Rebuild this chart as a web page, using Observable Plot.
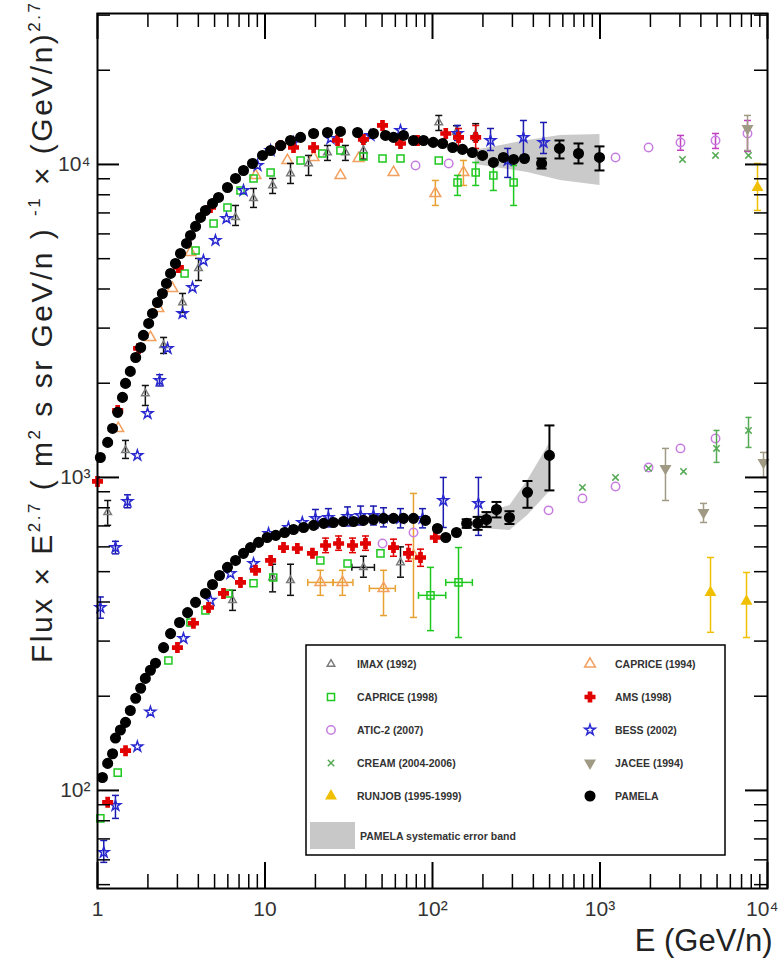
<!DOCTYPE html>
<html>
<head>
<meta charset="utf-8">
<script src="https://cdn.jsdelivr.net/npm/d3@7"></script>
<script src="https://cdn.jsdelivr.net/npm/@observablehq/plot@0.6"></script>
<style>
html,body{margin:0;padding:0;background:#fff;}
</style>
</head>
<body>
<div id="chart"></div>
<script>
// ---------- DATA (E [GeV/n], Flux*E^2.7, errLo, errHi, ELo, EHi) ----------
// Protons (upper group)
const pamelaP = [[1.04,1158],[1.15,1294],[1.23,1434],[1.32,1614],[1.41,1802],[1.47,1997],[1.57,2182],[1.69,2417],[1.81,2602],[1.88,2843],[2.02,3105],[2.13,3342],[2.28,3623],[2.44,3871],[2.58,4167],[2.73,4485],[2.92,4828],[3.13,5195],[3.40,5593],[3.59,5932],[3.85,6339],[4.12,6772],[4.41,7129],[4.86,7506],[5.28,7846],[5.97,8443],[6.67,9022],[7.44,9568],[8.42,10074],[9.66,10685],[10.8,11083],[12.4,11500],[14.2,11930],[16.3,12200],[19.5,12560],[23.6,12650],[28.2,12750],[35.7,12650],[44.4,12560],[52.4,12380],[58.5,12200],[67.1,12380],[77.0,11930],[88.4,11930],[101,11760],[115,11670],[132,11330],[151,11170],[173,10920],[199,10685],[231,10150],[265,10530],[305,10375],[354,10450],[448,10074,9700,10450],[573,11250,10450,11930],[744,10840,10074,11670],[993,10530,9568,11420]];
const imaxP = [[1.15,773,703,844],[1.47,1220,1150,1313],[1.93,1855,1698,1967],[2.48,2641,2490,2801],[3.22,3623,3367,3871],[4.01,4653,4259,5008],[6.67,6772,6384,7396],[8.54,7788,7289,8380],[11.1,8568,8078,9022],[14.2,9358,8694,10074],[18.2,10074,9224,10685],[23.6,10920,10300,11500],[30.2,10920,10300,11500],[38.7,11083,10400,11800],[109,13620,12840,14340],[139,12700,12200,13300],[181,12450,11930,13500]];
const bessP = [[1.04,384,355,415],[1.28,597,570,625],[1.51,838,800,880],[1.73,1176],[1.99,1601],[2.35,2041,1960,2130],[2.62,2583],[3.22,3342],[3.69,4046],[4.29,4935],[5.06,5719],[5.89,6722],[7.44,8259],[9.02,9927],[10.8,11083],[14.8,11760],[24.6,12106],[42.6,12380],[64.4,12840],[141,12560,11930,13324],[222,11930,11083,13030],[281,10300,9089,11250],[349,12200,10685,13820],[460,11760,10840,13620]];
const capr98P = [[3.31,4485],[3.85,5311],[4.93,6479],[5.97,7289],[7.14,8259],[8.54,9022],[10.8,9428],[16.3,10300],[22.0,10840],[28.2,11083],[38.7,10606],[50.3,10450],[64.4,10450],[109,10300],[141,8759,7962,9224],[181,9428,8568,10150],[231,9224,8259,9927],[305,8759,7396,9927]];
const capr94P = [[1.33,1434],[2.07,2801],[2.31,3467],[2.80,4016],[3.59,5235],[8.78,9224],[13.6,10300],[19.5,10530],[28.2,9224],[36.2,10450],[58.5,9428],[104,8078,7396,8889],[153,9428,8568,10300]];
const amsP = [[1.0,971],[1.32,1637],[1.76,2583],[3.04,4688],[4.73,7289],[12.4,11500],[14.8,11330],[19.5,11330],[27.1,11930],[38.7,12020],[50.3,13324],[64.4,11670],[81.4,11930],[120,12560],[143,12200,11400,13030],[181,12200,11250,13320]];
const aticP = [[79.2,9927],[125,10074],[1238,10530],[1949,11330],[3024,11760,11100,12380],[4894,11930,11250,12560],[7597,12560,11000,13820]];
const creamP = [[3109,10375],[4894,10685],[7702,10685]];
const runjobP = [[8716,8443,7129,10074]];
const jaceeP = [[7597,13030,11083,14340]];

// Helium (lower group)
const pamelaHe = [[1.07,110],[1.15,122],[1.23,131],[1.28,147],[1.37,156],[1.47,165],[1.57,180],[1.69,197],[1.81,212],[1.93,228],[2.07,242],[2.22,255],[2.48,286],[2.73,317],[3.09,344],[3.45,370],[3.85,399],[4.41,426],[4.86,455],[5.35,486],[5.97,516],[6.67,543],[7.44,572],[8.19,597],[9.15,620],[10.3,643],[11.6,653],[13.1,667],[14.8,682],[17.0,692],[19.5,703],[22.4,713],[25.6,718],[29.4,723],[33.8,723],[38.7,729],[44.4,734],[51.0,740],[58.5,740],[67.1,740],[77.0,740],[90.8,729],[107,687],[120,643],[139,667],[160,713,690,735],[186,713,680,748],[210,734,695,775],[241,790,745,835],[288,745,710,780],[369,896,800,974],[499,1176,909,1466]];
const amsHe = [[1.15,91.6],[1.47,134],[3.00,286],[3.74,342],[4.60,384],[5.65,426],[7.14,462],[8.78,505],[10.8,543],[12.9,597],[15.6,593],[19.2,572],[23.0,606,575,640],[27.5,615,585,650],[33.3,606,575,640],[39.8,615,585,650],[58.5,597,560,635],[71.9,572,540,610],[84.8,555,520,590],[104,643]];
const bessHe = [[1.09,63.4,58.9,69.2],[1.28,89.5,81.4,96.4],[1.73,138],[2.07,178],[3.26,306],[4.73,405],[6.22,493],[8.54,531],[10.5,662],[13.8,692],[16.7,718],[20.0,740,690,790],[23.9,745,695,795],[31.1,751,700,805],[37.2,756,705,810],[44.4,756,705,810],[51.0,745,695,800],[64.4,740,690,795],[87.2,740,690,795],[116,844,692,1000],[188,826,653,1000]];
const capr98He = [[1.04,81.4],[1.32,114],[2.65,260],[3.59,344],[4.41,376],[6.05,426],[8.54,459],[11.2,479],[21.4,543],[31.1,531],[48.9,572],[97.3,420,324,516,82.5,120],[143,462,308,597,120,173]];
const capr94He = [[21.4,462,420,505,18,25.5],[29.0,462,420,505,25.5,33.5],[51.0,442,362,505,42,60],[77.0,563,357,889]];
const imaxHe = [[6.40,405,376,436],[11.1,479,431,528],[14.2,469,420,528],[38.7,516,480,560,33,45],[64.4,535,480,600]];
const aticHe = [[50.3,615],[77.0,667],[493,785],[786,857],[1238,936],[1949,1076],[3024,1238],[4894,1332]];
const creamHe = [[786,929],[1238,1000],[1949,1069],[3152,1045],[4961,1238,1117,1413],[7702,1413,1247,1555]];
const jaceeHe = [[2460,1069,844,1238],[4149,773,718,826],[9465,1117,1000,1202]];
const runjobHe = [[4568,429,320,555],[7493,402,308,497]];

// PAMELA systematic error bands
const bandP_E = [180, 370, 580, 1000];
const bandP_lo = [10000, 9430, 8890, 8570];
const bandP_hi = [11100, 11930, 12380, 12470];
const bandHe_E = [180, 290, 370, 500];
const bandHe_lo = [690, 677, 756, 900];
const bandHe_hi = [750, 814, 978, 1284];

// Axes
const xMajor = [1, 10, 100, 1000, 10000];
const xLabels = ["1", "10", "10²", "10³", "10⁴"];
const yMajor = [100, 1000, 10000];
const yLabels = ["10²", "10³", "10⁴"];
const yDomain = [48.6, 30360];

// Legend
const legendLeft = ["IMAX (1992)", "CAPRICE (1998)", "ATIC-2 (2007)", "CREAM (2004-2006)", "RUNJOB (1995-1999)"];
const legendRight = ["CAPRICE (1994)", "AMS (1998)", "BESS (2002)", "JACEE (1994)", "PAMELA"];
const bandLabel = "PAMELA systematic error band";

// ---------- STYLE ----------
const FONT = "'Liberation Sans', Arial, Helvetica, sans-serif";
const W = 779, H = 973, ML = 97, MR = 12, MT = 13, MB = 85;
const innerW = W - ML - MR, innerH = H - MT - MB;

const styles = {
  "IMAX (1992)":        {symbol: "triangle", r: 2.8, stroke: "#7a7a7a", fill: "none", err: "#111", cap: 3.5},
  "CAPRICE (1998)":     {symbol: "square",   r: 4.0, stroke: "#1ec81e", fill: "none", err: "#1ec81e", cap: 3.5},
  "ATIC-2 (2007)":      {symbol: "circle",   r: 4.2, stroke: "#c77de0", fill: "none", err: "#c040c0", cap: 3.5},
  "CREAM (2004-2006)":  {symbol: "times",    r: 3.0, stroke: "#55aa55", fill: "none", err: "#55aa55", cap: 3},
  "RUNJOB (1995-1999)": {symbol: "triangle", r: 3.5, stroke: "#f0c000", fill: "#f0c000", err: "#f0c000", cap: 3.5},
  "CAPRICE (1994)":     {symbol: "triangle", r: 4.0, stroke: "#f2a060", fill: "none", err: "#e8a030", cap: 3.5},
  "AMS (1998)":         {symbol: "cross",    r: 4.0, stroke: "#e00000", fill: "#e00000", err: "#e00000", cap: 3.5},
  "BESS (2002)":        {symbol: "star",     r: 3.3, stroke: "#2a2ad0", fill: "none", err: "#1a1ab0", cap: 3.5},
  "JACEE (1994)":       {symbol: "triangle", r: 3.5, stroke: "#a09a84", fill: "#a09a84", err: "#a09a84", cap: 3.5, rotate: 180},
  "PAMELA":             {symbol: "circle",   r: 4.8, stroke: "#000", fill: "#000", err: "#000", cap: 5}
};
const seriesData = {
  "CAPRICE (1994)": [capr94P, capr94He],
  "IMAX (1992)": [imaxP, imaxHe],
  "CAPRICE (1998)": [capr98P, capr98He],
  "ATIC-2 (2007)": [aticP, aticHe],
  "CREAM (2004-2006)": [creamP, creamHe],
  "JACEE (1994)": [jaceeP, jaceeHe],
  "RUNJOB (1995-1999)": [runjobP, runjobHe],
  "BESS (2002)": [bessP, bessHe],
  "AMS (1998)": [amsP, amsHe],
  "PAMELA": [pamelaP, pamelaHe]
};

const toRows = (arr) => arr.map(([E, F, lo, hi, xlo, xhi]) => ({E, F, lo, hi, xlo, xhi}));
const capH = {draw(ctx, size) { const r = Math.sqrt(size / Math.PI); ctx.moveTo(-r, 0); ctx.lineTo(r, 0); }};
const capV = {draw(ctx, size) { const r = Math.sqrt(size / Math.PI); ctx.moveTo(0, -r); ctx.lineTo(0, r); }};

const marks = [];
// bands
const bandRows = (E, lo, hi) => E.map((e, i) => ({E: e, lo: lo[i], hi: hi[i]}));
marks.push(Plot.areaY(bandRows(bandP_E, bandP_lo, bandP_hi), {x: "E", y1: "lo", y2: "hi", fill: "#bdbdbd", fillOpacity: 0.8}));
marks.push(Plot.areaY(bandRows(bandHe_E, bandHe_lo, bandHe_hi), {x: "E", y1: "lo", y2: "hi", fill: "#bdbdbd", fillOpacity: 0.8}));

for (const name of Object.keys(seriesData)) {
  const s = styles[name];
  const d = seriesData[name].flatMap(toRows);
  const ye = d.filter(r => r.lo != null);
  const xe = d.filter(r => r.xlo != null);
  const sw = name === "PAMELA" ? 2 : 1.5;
  marks.push(Plot.ruleX(ye, {x: "E", y1: "lo", y2: "hi", stroke: s.err, strokeWidth: sw}));
  marks.push(Plot.dot(ye, {x: "E", y: "lo", symbol: capH, r: s.cap, stroke: s.err, fill: "none", strokeWidth: sw}));
  marks.push(Plot.dot(ye, {x: "E", y: "hi", symbol: capH, r: s.cap, stroke: s.err, fill: "none", strokeWidth: sw}));
  marks.push(Plot.ruleY(xe, {y: "F", x1: "xlo", x2: "xhi", stroke: s.err, strokeWidth: sw}));
  marks.push(Plot.dot(xe, {x: "xlo", y: "F", symbol: capV, r: s.cap, stroke: s.err, fill: "none", strokeWidth: sw}));
  marks.push(Plot.dot(xe, {x: "xhi", y: "F", symbol: capV, r: s.cap, stroke: s.err, fill: "none", strokeWidth: sw}));
  marks.push(Plot.dot(d, {x: "E", y: "F", symbol: s.symbol, r: s.r, stroke: s.stroke, fill: s.fill, strokeWidth: 1.5, rotate: s.rotate || 0}));
}

// ticks (inward, on all four sides)
const xMinor = xMajor.slice(0, -1).flatMap(d => [2, 3, 4, 5, 6, 7, 8, 9].map(k => k * d));
const yMinor = [10, 100, 1000, 10000].flatMap(d => [2, 3, 4, 5, 6, 7, 8, 9].map(k => k * d)).filter(v => v >= yDomain[0] && v <= yDomain[1]);
const tk = {stroke: "#000"};
marks.push(Plot.ruleX(xMinor, {x: d => d, insetTop: innerH - 14, strokeWidth: 1.5, ...tk}));
marks.push(Plot.ruleX(xMinor, {x: d => d, insetBottom: innerH - 14, strokeWidth: 1.5, ...tk}));
marks.push(Plot.ruleX(xMajor, {x: d => d, insetTop: innerH - 26, strokeWidth: 2, ...tk}));
marks.push(Plot.ruleX(xMajor, {x: d => d, insetBottom: innerH - 26, strokeWidth: 2, ...tk}));
marks.push(Plot.ruleY(yMinor, {y: d => d, insetRight: innerW - 13, strokeWidth: 1.5, ...tk}));
marks.push(Plot.ruleY(yMinor, {y: d => d, insetLeft: innerW - 13, strokeWidth: 1.5, ...tk}));
marks.push(Plot.ruleY(yMajor, {y: d => d, insetRight: innerW - 22, strokeWidth: 2, ...tk}));
marks.push(Plot.ruleY(yMajor, {y: d => d, insetLeft: innerW - 22, strokeWidth: 2, ...tk}));
marks.push(Plot.frame({stroke: "#000", strokeWidth: 2}));

// tick labels and x title (last x label right-aligned so it stays inside the picture)
const nX = xMajor.length - 1;
marks.push(Plot.text(xMajor.slice(0, nX), {x: d => d, text: (d, i) => xLabels[i], frameAnchor: "bottom", dy: 27, fontSize: 21, fill: "#333"}));
marks.push(Plot.text(xMajor.slice(nX), {x: d => d, text: () => xLabels[nX], frameAnchor: "bottom", textAnchor: "end", dx: 11, dy: 27, fontSize: 21, fill: "#333"}));
marks.push(Plot.text(yMajor, {y: d => d, text: (d, i) => yLabels[i], frameAnchor: "left", textAnchor: "end", dx: -7, fontSize: 21, fill: "#333"}));
marks.push(Plot.text(["E (GeV/n)"], {text: d => d, frameAnchor: "bottom-right", textAnchor: "end", dx: 5, dy: 62, fontSize: 31, fill: "#222"}));

const chart = Plot.plot({
  width: W, height: H,
  marginLeft: ML, marginRight: MR, marginTop: MT, marginBottom: MB,
  x: {type: "log", domain: [1, 1e4], axis: null},
  y: {type: "log", domain: yDomain, axis: null},
  style: {fontFamily: FONT, background: "#fff"},
  marks
});
document.getElementById("chart").appendChild(chart);

const svg = d3.select(chart);

// y-axis title with superscripts
const yt = svg.append("text")
  .attr("transform", "translate(52,333) rotate(-90)")
  .attr("text-anchor", "middle")
  .attr("font-family", FONT).attr("font-size", 30).attr("fill", "#222")
  .attr("textLength", 660).attr("lengthAdjust", "spacing");
const parts = [["Flux × E", 0], ["2.7", 1], [" ( m", 0], ["2", 1], [" s sr GeV/n ) ", 0], ["-1", 1], [" × (GeV/n)", 0], ["2.7", 1]];
let up = 0;
for (const [t, sup] of parts) {
  const ts = yt.append("tspan").text(t);
  if (sup) { ts.attr("font-size", 17).attr("dy", up ? 0 : -12); up = 1; }
  else { ts.attr("dy", up ? 12 : 0); up = 0; }
}

// legend
const d3Sym = {triangle: d3.symbolTriangle, square: d3.symbolSquare, circle: d3.symbolCircle, cross: d3.symbolCross, star: d3.symbolStar, times: d3.symbolTimes};
const lg = svg.append("g").attr("font-family", FONT).attr("text-anchor", "start");
lg.append("rect").attr("x", 306).attr("y", 645).attr("width", 419).attr("height", 210)
  .attr("fill", "#fff").attr("stroke", "#000").attr("stroke-width", 1.5);
const rowY = i => 664 + i * 33;
function entry(name, mx, tx, y) {
  const s = styles[name];
  lg.append("path")
    .attr("d", d3.symbol(d3Sym[s.symbol], Math.PI * s.r * s.r)())
    .attr("transform", `translate(${mx},${y}) rotate(${s.rotate || 0})`)
    .attr("fill", s.fill).attr("stroke", s.stroke).attr("stroke-width", 1.5);
  lg.append("text").attr("x", tx).attr("y", y).attr("dy", "0.35em").attr("text-anchor", "start")
    .attr("font-size", 10.5).attr("font-weight", "bold").attr("fill", "#333").text(name);
}
legendLeft.forEach((n, i) => entry(n, 331, 357, rowY(i)));
legendRight.forEach((n, i) => entry(n, 590, 615, rowY(i)));
lg.append("rect").attr("x", 310).attr("y", 822).attr("width", 45).attr("height", 27).attr("fill", "#c8c8c8");
lg.append("text").attr("x", 360).attr("y", 836).attr("dy", "0.35em").attr("text-anchor", "start")
  .attr("font-size", 10.5).attr("font-weight", "bold").attr("fill", "#333").text(bandLabel);
</script>
</body>
</html>
